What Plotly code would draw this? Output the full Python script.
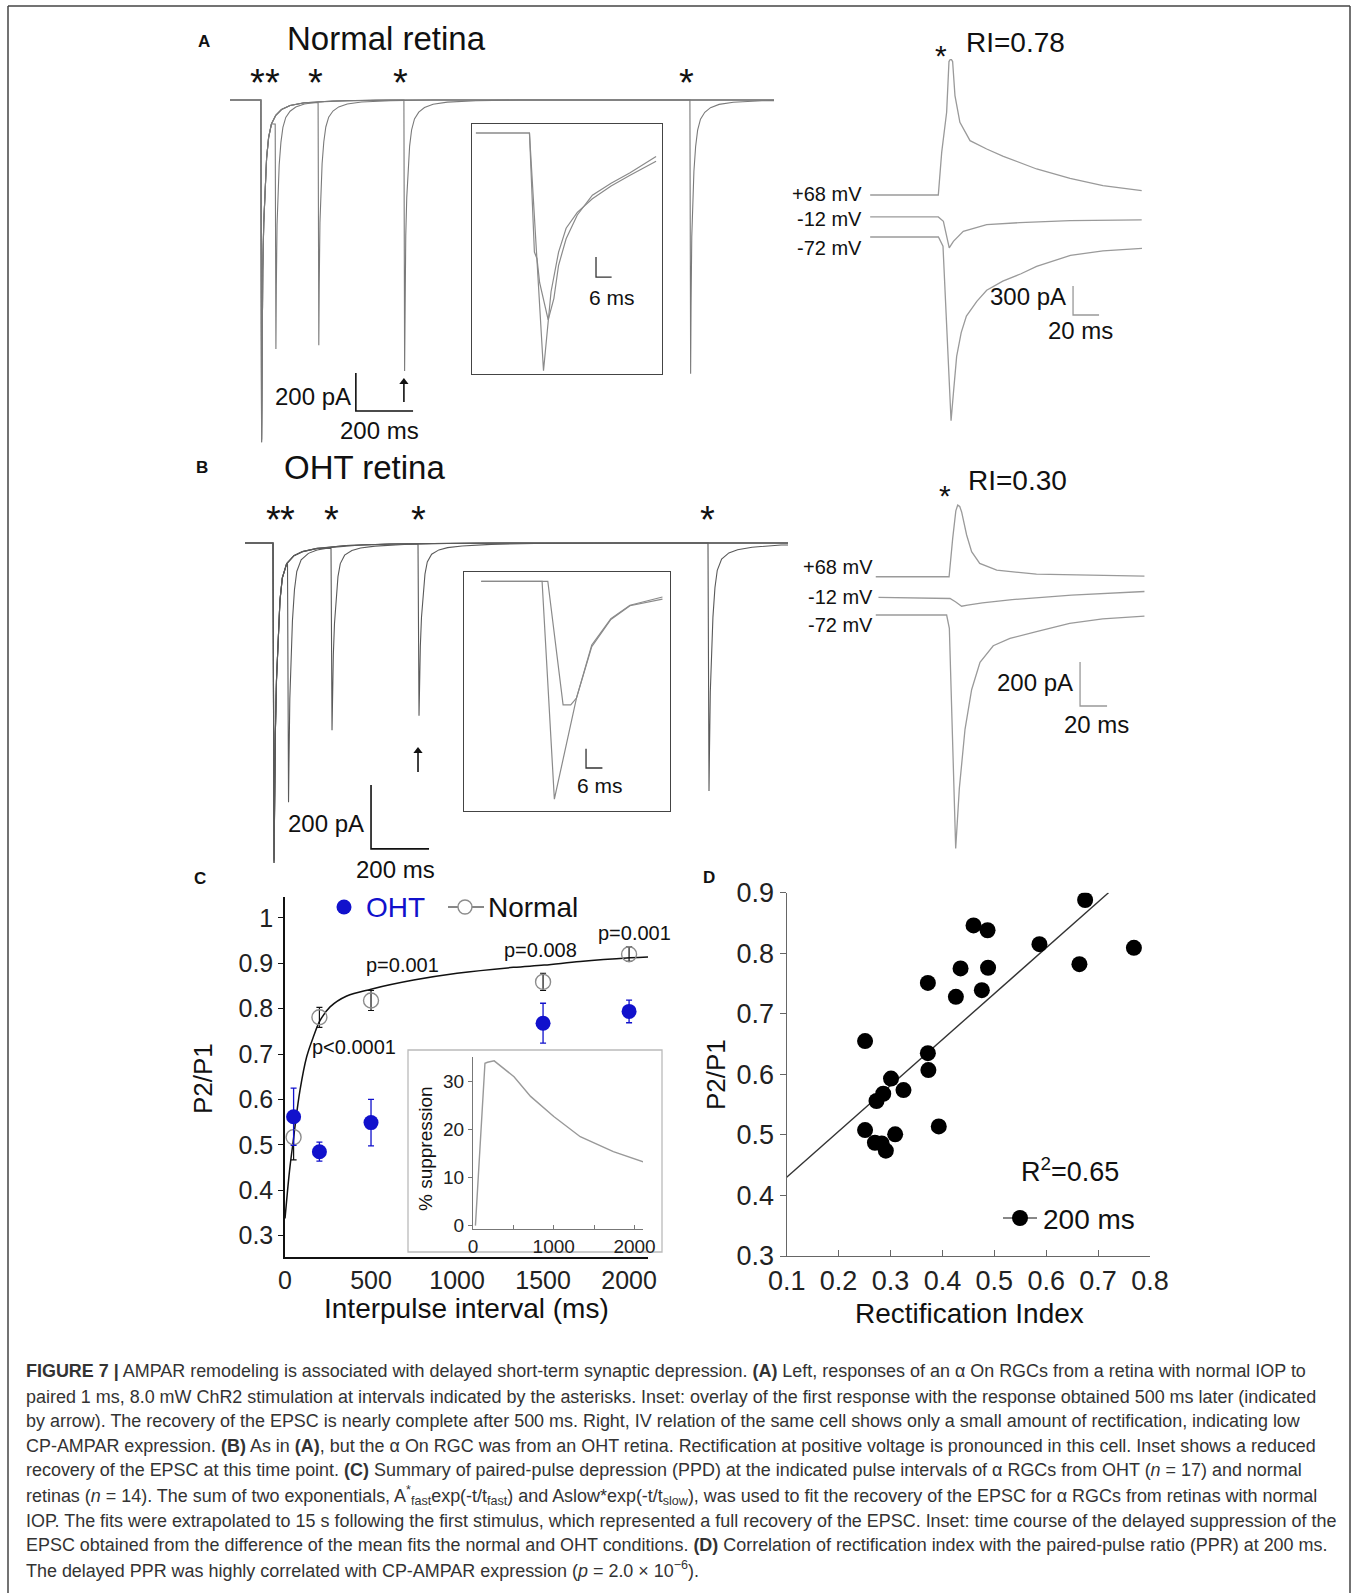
import plotly.graph_objects as go

W, H = 1354, 1593
FONT = "Liberation Sans, Arial, sans-serif"

# ---------------- DATA ----------------
# Panels A/B (left): paired-pulse sweeps, interval of the 2nd pulse (ms)
pp_intervals_ms = [50, 200, 500, 1500]
a_p1_pA = [1800, 1790, 1785, 1800]
a_p2_pA = [1310, 1290, 1425, 1440]
b_p1_pA = [1000, 995, 990, 1000]
b_p2_pA = [810, 585, 540, 775]
# EPSC waveform: time after stimulus (ms), fraction of peak
epscA_t = [0, 2.5, 4, 6.5, 10, 14, 20, 27, 37, 52, 72, 102, 152, 252, 402]
epscA_f = [0, 1.0, 0.75, 0.5, 0.36, 0.26, 0.17, 0.11, 0.07, 0.045, 0.028, 0.016, 0.008, 0.003, 0]
epscB_t = [0, 3.5, 5, 8, 12, 17, 24, 32, 47, 72, 102, 152, 252, 402, 702]
epscB_f = [0, 1.0, 0.85, 0.6, 0.43, 0.3, 0.18, 0.11, 0.065, 0.04, 0.027, 0.017, 0.008, 0.003, 0]

# Insets: first response and response 500 ms later
insA_first_t = [1.5, 22.1, 23.0, 27.5, 30.4, 33.3, 36.2, 40.5, 46.3, 53.5, 60.8, 70.8]
insA_first_pA = [0, 0, -300, -1797, -1200, -900, -720, -600, -497, -400, -320, -213]
insA_late_t = [1.5, 22.1, 24.0, 25.0, 26.0, 29.3, 31.5, 33.3, 36.2, 40.5, 46.3, 53.5, 60.8, 70.8]
insA_late_pA = [0, 0, -900, -950, -1130, -1413, -1250, -1000, -800, -620, -470, -380, -300, -178]
insB_first_t = [6.3, 28.6, 33.1, 41.2, 46.8, 53.8, 60.8, 72.7]
insB_first_pA = [0, 0, -1000, -536, -292, -171, -110, -72]
insB_late_t = [6.3, 30.7, 36.3, 39.1, 41.2, 46.8, 53.8, 60.8, 72.7]
insB_late_pA = [0, 0, -567, -567, -536, -300, -175, -112, -82]

# IV relations (time from stimulus in ms, current in pA)
ivA_p68_t = [-56, -3.6, -1, 2.8, 4.6, 5.5, 6.5, 7.4, 9.2, 13, 20.8, 33.6, 46.4, 72, 97.7, 123, 152.8]
ivA_p68_pA = [0, 0, 441, 855, 1380, 1400, 1400, 1380, 1028, 752, 562, 476, 400, 269, 173, 97, 45]
ivA_m12_t = [-56, -3.6, 0.3, 4.8, 8, 15.6, 33.6, 59, 97.7, 152.8]
ivA_m12_pA = [0, 0, -45, -320, -252, -148, -80, -59, -38, -31]
ivA_m72_t = [-56, -3.5, 0, 3, 6.2, 8, 10.5, 14, 18, 26, 33.6, 46, 60, 72, 98, 123, 153]
ivA_m72_pA = [0, 0, -95, -950, -1900, -1615, -1235, -988, -817, -665, -551, -456, -380, -304, -190, -144, -118]
ivB_p68_t = [-55, -0.7, 2, 4.3, 5.7, 7.2, 8.6, 12.3, 16, 22, 34.6, 64, 144]
ivB_p68_pA = [0, 0, 176, 300, 326, 320, 295, 190, 114, 61, 30, 12, 3]
ivB_m12_t = [-53, 0, 4, 8.6, 13, 24, 46, 90, 144]
ivB_m12_pA = [0, -5, -20, -40, -35, -25, -10, 10, 27]
ivB_m72_t = [-55, -2.5, -0.5, 2, 4.2, 6.9, 11.1, 16, 22.2, 32, 44.4, 64, 88.6, 113, 144]
ivB_m72_pA = [0, 0, -61, -637, -1062, -789, -520, -340, -215, -140, -106, -76, -38, -18, -5]
iv_labels = ["+68 mV", "-12 mV", "-72 mV"]

# Panel C
ipi_ms = [50, 200, 500, 1500, 2000]
oht_ppr = [0.562, 0.485, 0.549, 0.768, 0.794]
oht_sem = [0.063, 0.021, 0.051, 0.044, 0.025]
normal_ppr = [0.517, 0.781, 0.818, 0.859, 0.920]
normal_sem = [0.050, 0.022, 0.022, 0.019, 0.016]
fit_t = [0, 15, 29, 50, 58, 87, 126, 165, 204, 262, 359, 500, 748, 1000, 1327, 1506, 1716, 2006, 2110]
fit_ppr = [0.338, 0.40, 0.452, 0.515, 0.54, 0.62, 0.694, 0.738, 0.774, 0.804, 0.828, 0.843, 0.863, 0.878, 0.891, 0.896, 0.904, 0.912, 0.914]
supp_t = [30, 148, 180, 262, 508, 713, 1000, 1328, 1738, 2107]
supp_pct = [0, 33.8, 34.0, 34.3, 31.0, 26.9, 22.7, 18.5, 15.4, 13.3]
pvals = ["p<0.0001", "p=0.001", "p=0.008", "p=0.001"]

# Panel D
rect_index = [0.675, 0.460, 0.487, 0.587, 0.769, 0.664, 0.435, 0.488, 0.372, 0.476, 0.426, 0.251,
              0.372, 0.373, 0.301, 0.325, 0.286, 0.273, 0.251, 0.309, 0.393, 0.270, 0.283, 0.291]
ppr_200 = [0.888, 0.846, 0.838, 0.815, 0.809, 0.782, 0.775, 0.776, 0.751, 0.739, 0.728, 0.655,
           0.635, 0.607, 0.593, 0.574, 0.568, 0.556, 0.508, 0.501, 0.514, 0.487, 0.486, 0.474]
reg_x = [0.1, 0.72]
reg_y = [0.43, 0.90]

caption_lines = [
    "<b>FIGURE 7 |</b> AMPAR remodeling is associated with delayed short-term synaptic depression. <b>(A)</b> Left, responses of an α On RGCs from a retina with normal IOP to",
    "paired 1 ms, 8.0 mW ChR2 stimulation at intervals indicated by the asterisks. Inset: overlay of the first response with the response obtained 500 ms later (indicated",
    "by arrow). The recovery of the EPSC is nearly complete after 500 ms. Right, IV relation of the same cell shows only a small amount of rectification, indicating low",
    "CP-AMPAR expression. <b>(B)</b> As in <b>(A)</b>, but the α On RGC was from an OHT retina. Rectification at positive voltage is pronounced in this cell. Inset shows a reduced",
    "recovery of the EPSC at this time point. <b>(C)</b> Summary of paired-pulse depression (PPD) at the indicated pulse intervals of α RGCs from OHT (<i>n</i> = 17) and normal",
    "retinas (<i>n</i> = 14). The sum of two exponentials, A<sup>*</sup><sub>fast</sub>exp(-t/t<sub>fast</sub>) and Aslow*exp(-t/t<sub>slow</sub>), was used to fit the recovery of the EPSC for α RGCs from retinas with normal",
    "IOP. The fits were extrapolated to 15 s following the first stimulus, which represented a full recovery of the EPSC. Inset: time course of the delayed suppression of the",
    "EPSC obtained from the difference of the mean fits the normal and OHT conditions. <b>(D)</b> Correlation of rectification index with the paired-pulse ratio (PPR) at 200 ms.",
    "The delayed PPR was highly correlated with CP-AMPAR expression (<i>p</i> = 2.0 × 10<sup>−6</sup>).",
]

# ---------------- helpers ----------------
def build_sweep(tt, ff, amp1, ipi, amp2, t0, t1):
    ts, ys = [t0], [0.0]
    last = 0.0
    for t, f in zip(tt, ff):
        if t < ipi:
            ts.append(t); ys.append(-amp1 * f); last = -amp1 * f
    ts.append(ipi); ys.append(last if ipi < tt[-1] else 0.0)
    for t, f in zip(tt[1:], ff[1:]):
        ts.append(ipi + t); ys.append(-amp2 * f)
    ts.append(t1); ys.append(0.0)
    return ts, ys


def dx(x0, x1):
    return [x0 / W, x1 / W]


def dy(top, bottom):
    return [1 - bottom / H, 1 - top / H]


def ann(xp, yp, text, size, color="#111", xanchor="center", yanchor="middle", angle=0):
    return dict(x=xp / W, y=1 - yp / H, xref="paper", yref="paper", text=text, showarrow=False,
                font=dict(size=size, color=color, family=FONT), xanchor=xanchor, yanchor=yanchor,
                textangle=angle)


fig = go.Figure()
annotations = []
shapes = []

geo = {
    1: ((230, 774), (55, 450), (-108, 1794), (-1841, 236.7)),       # A left
    2: ((472, 662), (124, 374), (0, 73.08), (-1822, 68)),            # A inset
    3: ((869, 1143), (45, 440), (-56.9, 153.8), (-2099, 1985)),      # A IV
    4: ((245, 788), (490, 870), (-96.6, 1775.9), (-1021.9, 165.6)),  # B left
    5: ((464, 670), (572, 811), (0, 75.46), (-1054.3, 42.7)),        # B inset
    6: ((874, 1145), (470, 860), (-56.3, 144.4), (-1114.8, 659.8)),  # B IV
    7: ((285, 648), (897, 1257), (0, 2110), (0.253, 1.046)),          # C
    8: ((473, 643), (1057, 1229), (0, 2105), (-0.7, 35.1)),           # C inset
    9: ((786.7, 1150), (892.7, 1256), (0.1, 0.8), (0.3, 0.9)),        # D
}
layout_axes = {}
for k, (xs, ys, xr, yr) in geo.items():
    xn = "xaxis" if k == 1 else f"xaxis{k}"
    yn = "yaxis" if k == 1 else f"yaxis{k}"
    xa = "x" if k == 1 else f"x{k}"
    ya = "y" if k == 1 else f"y{k}"
    layout_axes[xn] = dict(domain=dx(*xs), range=list(xr), anchor=ya, visible=False, fixedrange=True,
                           showgrid=False, zeroline=False, automargin=False)
    layout_axes[yn] = dict(domain=dy(*ys), range=list(yr), anchor=xa, visible=False, fixedrange=True,
                           showgrid=False, zeroline=False, automargin=False)

for k in (2, 5):
    for ax in (f"xaxis{k}", f"yaxis{k}"):
        layout_axes[ax].update(visible=True, showline=True, mirror=True, linecolor="#444",
                               linewidth=1.3, ticks="", showticklabels=False)

layout_axes["xaxis7"].update(visible=True, showline=True, linecolor="#111", linewidth=1.5, ticks="",
                             tickvals=[0, 500, 1000, 1500, 2000],
                             tickfont=dict(size=25, color="#222", family=FONT))
layout_axes["yaxis7"].update(visible=True, showline=True, linecolor="#111", linewidth=1.5,
                             ticks="outside", ticklen=5, tickcolor="#111",
                             tickvals=[0.3, 0.4, 0.5, 0.6, 0.7, 0.8, 0.9, 1.0],
                             ticktext=["0.3", "0.4", "0.5", "0.6", "0.7", "0.8", "0.9", "1"],
                             tickfont=dict(size=25, color="#222", family=FONT))
layout_axes["xaxis8"].update(visible=True, showline=True, linecolor="#777", linewidth=1, ticks="inside",
                             ticklen=4, tickcolor="#777", tickvals=[0, 1000, 2000],
                             minor=dict(tickvals=[500, 1500], ticks="inside", ticklen=4, tickcolor="#777",
                                        showgrid=False),
                             tickfont=dict(size=19, color="#222", family=FONT))
layout_axes["yaxis8"].update(visible=True, showline=True, linecolor="#777", linewidth=1, ticks="outside",
                             ticklen=4, tickcolor="#777", tickvals=[0, 10, 20, 30],
                             tickfont=dict(size=19, color="#222", family=FONT))
layout_axes["xaxis9"].update(visible=True, showline=True, linecolor="#666", linewidth=1.4, ticks="inside",
                             ticklen=6, tickcolor="#666",
                             tickvals=[0.1, 0.2, 0.3, 0.4, 0.5, 0.6, 0.7, 0.8],
                             tickfont=dict(size=27, color="#222", family=FONT))
layout_axes["yaxis9"].update(visible=True, showline=True, linecolor="#666", linewidth=1.4, ticks="outside",
                             ticklen=6, tickcolor="#666",
                             tickvals=[0.3, 0.4, 0.5, 0.6, 0.7, 0.8, 0.9],
                             tickfont=dict(size=27, color="#222", family=FONT))


def line(x, y, k, color="#111", width=1.2, shape="linear"):
    xa = "x" if k == 1 else f"x{k}"
    ya = "y" if k == 1 else f"y{k}"
    fig.add_trace(go.Scatter(x=x, y=y, xaxis=xa, yaxis=ya, mode="lines", showlegend=False,
                             hoverinfo="skip", line=dict(color=color, width=width, shape=shape)))


def arrow_up(xv, y_tail, y_line_end, y_head_marker, k):
    xa = "x" if k == 1 else f"x{k}"
    ya = "y" if k == 1 else f"y{k}"
    line([xv, xv], [y_tail, y_line_end], k, color="#111", width=1.6)
    fig.add_trace(go.Scatter(x=[xv], y=[y_head_marker], xaxis=xa, yaxis=ya, mode="markers",
                             showlegend=False, hoverinfo="skip",
                             marker=dict(symbol="triangle-up", size=8, color="#111")))


STAR = 38

# ---------------- Panel A ----------------
for a1, ipi, a2 in zip(a_p1_pA, pp_intervals_ms, a_p2_pA):
    t, y = build_sweep(epscA_t, epscA_f, a1, ipi, a2, -108, 1794)
    line(t, y, 1, color="#7a7a7a", width=1.1)
sbA_t, sbA_y = 332, -1636
line([sbA_t, sbA_t, sbA_t + 200], [sbA_y + 200, sbA_y, sbA_y], 1, color="#111", width=1.6)
annotations.append(ann(353, 396, "200 pA", 24, xanchor="right"))
annotations.append(ann(380, 431, "200 ms", 24))
arrow_up(pp_intervals_ms[2], -1588, -1478, -1483, 1)
for ts in [0] + pp_intervals_ms:
    annotations.append(dict(x=ts, y=1 - 60 / H, xref="x", yref="paper", text="*", showarrow=False,
                            xshift=-3, font=dict(size=STAR, color="#111", family=FONT)))
annotations.append(ann(204, 41, "<b>A</b>", 17))
annotations.append(ann(285, 38, "Normal retina", 33, xanchor="left"))

line(insA_late_t, insA_late_pA, 2, color="#8a8a8a", width=1.2)
line(insA_first_t, insA_first_pA, 2, color="#8a8a8a", width=1.2)
line([47.7, 47.7, 53.7], [-937, -1089, -1089], 2, color="#333", width=1.3)
annotations.append(ann(612, 298, "6 ms", 21))

ivA_offset = [434, 207, 0]
for (tt, yy), off in zip([(ivA_p68_t, ivA_p68_pA), (ivA_m12_t, ivA_m12_pA), (ivA_m72_t, ivA_m72_pA)], ivA_offset):
    line(tt, [v + off for v in yy], 3, color="#9a9a9a", width=1.3)
line([100, 100, 120], [-506.5, -806.5, -806.5], 3, color="#999", width=1.3)
annotations.append(ann(1068, 297, "300 pA", 24, xanchor="right"))
annotations.append(ann(1080, 331, "20 ms", 24))
for lab, yp in zip(iv_labels, [194, 219, 248]):
    annotations.append(ann(864, yp, lab, 20, xanchor="right"))
annotations.append(ann(1015, 42, "RI=0.78", 28))
annotations.append(ann(941, 55, "*", 30))

# ---------------- Panel B ----------------
for a1, ipi, a2 in zip(b_p1_pA, pp_intervals_ms, b_p2_pA):
    t, y = build_sweep(epscB_t, epscB_f, a1, ipi, a2, -96.6, 1775.9)
    line(t, y, 4, color="#5a5a5a", width=1.1)
sbB_t, sbB_y = 338, -956
line([sbB_t, sbB_t, sbB_t + 200], [sbB_y + 200, sbB_y, sbB_y], 4, color="#111", width=1.6)
annotations.append(ann(366, 824, "200 pA", 24, xanchor="right"))
annotations.append(ann(396, 869, "200 ms", 24))
arrow_up(pp_intervals_ms[2], -715.6, -647, -650, 4)
for ts in [0] + pp_intervals_ms:
    annotations.append(dict(x=ts, y=1 - 497 / H, xref="x4", yref="paper", text="*", showarrow=False,
                            font=dict(size=STAR, color="#111", family=FONT)))
annotations.append(ann(202, 468, "<b>B</b>", 17))
annotations.append(ann(282, 468, "OHT retina", 33, xanchor="left"))

line(insB_late_t, insB_late_pA, 5, color="#8a8a8a", width=1.2)
line(insB_first_t, insB_first_pA, 5, color="#8a8a8a", width=1.2)
line([44.7, 44.7, 50.7], [-769, -857, -857], 5, color="#333", width=1.3)
annotations.append(ann(600, 785, "6 ms", 21))

ivB_offset = [174, 80, 0]
for (tt, yy), off in zip([(ivB_p68_t, ivB_p68_pA), (ivB_m12_t, ivB_m12_pA), (ivB_m72_t, ivB_m72_pA)], ivB_offset):
    line(tt, [v + off for v in yy], 6, color="#9a9a9a", width=1.3)
line([96.3, 96.3, 116.3], [-214, -414, -414], 6, color="#999", width=1.3)
annotations.append(ann(1075, 682, "200 pA", 24, xanchor="right"))
annotations.append(ann(1096, 724, "20 ms", 24))
for lab, yp in zip(iv_labels, [567, 597, 625]):
    annotations.append(ann(875, yp, lab, 20, xanchor="right"))
annotations.append(ann(1017, 480, "RI=0.30", 28))
annotations.append(ann(945, 496, "*", 30))

# ---------------- Panel C ----------------
BLUE = "#1111cc"
line(fit_t, fit_ppr, 7, color="#111", width=1.5, shape="spline")
fig.add_trace(go.Scatter(x=ipi_ms, y=normal_ppr, xaxis="x7", yaxis="y7", mode="markers", showlegend=False,
                         marker=dict(symbol="circle-open", size=15, color="#8c8c8c", line=dict(width=1.4)),
                         error_y=dict(type="data", array=normal_sem, color="#111", thickness=1.2, width=3)))
fig.add_trace(go.Scatter(x=ipi_ms, y=oht_ppr, xaxis="x7", yaxis="y7", mode="markers", showlegend=False,
                         marker=dict(symbol="circle", size=15, color=BLUE),
                         error_y=dict(type="data", array=oht_sem, color=BLUE, thickness=1.3, width=3)))
annotations.append(ann(200, 878, "<b>C</b>", 17))
annotations.append(ann(203, 1079, "P2/P1", 26, angle=-90))
annotations.append(ann(466, 1308, "Interpulse interval (ms)", 28))
for txt, (xp, yp) in zip(pvals, [(354, 1047), (402, 965), (540, 950), (634, 933)]):
    annotations.append(ann(xp, yp, txt, 20))
shapes.append(dict(type="circle", xref="paper", yref="paper", x0=(344 - 7.5) / W, x1=(344 + 7.5) / W,
                   y0=1 - (907 + 7.5) / H, y1=1 - (907 - 7.5) / H, fillcolor=BLUE, line=dict(width=0)))
annotations.append(ann(364, 908, "OHT", 28, color=BLUE, xanchor="left"))
shapes.append(dict(type="line", xref="paper", yref="paper", x0=448 / W, x1=484 / W, y0=1 - 907 / H,
                   y1=1 - 907 / H, line=dict(color="#111", width=1)))
shapes.append(dict(type="circle", xref="paper", yref="paper", x0=(465 - 7) / W, x1=(465 + 7) / W,
                   y0=1 - (907 + 7) / H, y1=1 - (907 - 7) / H, fillcolor="white",
                   line=dict(color="#8c8c8c", width=1.4)))
annotations.append(ann(486, 908, "Normal", 28, xanchor="left"))
shapes.append(dict(type="rect", xref="paper", yref="paper", x0=408 / W, x1=662 / W, y0=1 - 1252 / H,
                   y1=1 - 1050 / H, line=dict(color="#bbb", width=1.3), layer="below"))
line(supp_t, supp_pct, 8, color="#999", width=1.4)
annotations.append(ann(425, 1149, "% suppression", 19, angle=-90))

# ---------------- Panel D ----------------
line(reg_x, reg_y, 9, color="#333", width=1.4)
fig.add_trace(go.Scatter(x=rect_index, y=ppr_200, xaxis="x9", yaxis="y9", mode="markers", showlegend=False,
                         marker=dict(symbol="circle", size=16, color="#000")))
annotations.append(ann(709, 877, "<b>D</b>", 17))
annotations.append(ann(716, 1075, "P2/P1", 26, angle=-90))
annotations.append(ann(969, 1313, "Rectification Index", 28))
annotations.append(ann(1070, 1170, "R<sup>2</sup>=0.65", 27))
shapes.append(dict(type="line", xref="paper", yref="paper", x0=1003 / W, x1=1037 / W, y0=1 - 1218 / H,
                   y1=1 - 1218 / H, line=dict(color="#111", width=1)))
shapes.append(dict(type="circle", xref="paper", yref="paper", x0=(1020 - 8) / W, x1=(1020 + 8) / W,
                   y0=1 - (1218 + 8) / H, y1=1 - (1218 - 8) / H, fillcolor="#000", line=dict(width=0)))
annotations.append(ann(1041, 1219, "200 ms", 28, xanchor="left"))

# ---------------- caption & frame ----------------
cap_y = [1371, 1396.5, 1421, 1445.5, 1470, 1495, 1520.5, 1545, 1569.5]
for txt, yp in zip(caption_lines, cap_y):
    annotations.append(ann(24, yp, txt, 17.95, color="#333", xanchor="left"))

for (x0, y0, x1, y1) in [(8, 6, 1350, 6), (8, 6, 8, 1593), (1350, 6, 1350, 1593)]:
    shapes.append(dict(type="line", xref="paper", yref="paper", x0=x0 / W, x1=x1 / W, y0=1 - y0 / H,
                       y1=1 - y1 / H, line=dict(color="#444", width=1.5), layer="below"))

fig.update_layout(template="none", width=W, height=H, autosize=False,
                  margin=dict(l=0, r=0, t=0, b=0, pad=0, autoexpand=False),
                  paper_bgcolor="white", plot_bgcolor="white", showlegend=False,
                  annotations=annotations, shapes=shapes, font=dict(family=FONT), **layout_axes)

fig.write_html("out.html", config={"displayModeBar": False, "responsive": False},
               post_script="document.body.style.margin='0';document.body.style.overflow='hidden';")
